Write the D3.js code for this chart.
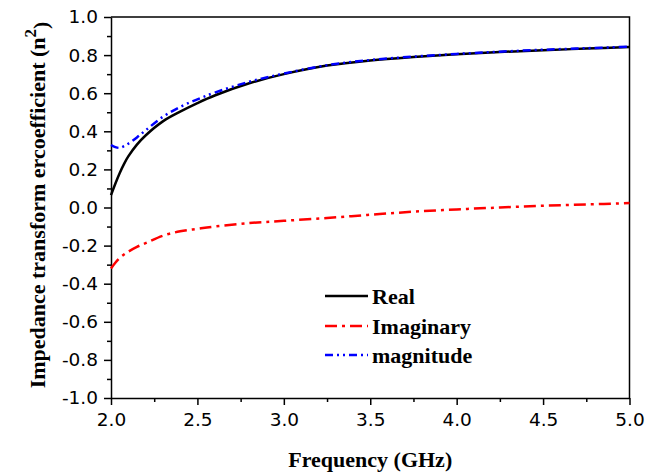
<!DOCTYPE html>
<html lang="en">
    <head>
        <meta charset="utf-8">
        <title>Impedance Transform Coefficient</title>
        <script src="https://d3js.org/d3.v7.min.js"></script>
        <style type="text/css">
        body {
            margin: 0;
            background: #fff;
        }
        .tick text {
            font-family: "DejaVu Sans", Arial, sans-serif;
            font-size: 18.5px;
            fill: #000;
        }
        .title {
            font-family: "Liberation Serif", "Times New Roman", serif;
            font-weight: bold;
            font-size: 22px;
            fill: #000;
        }
        .legend {
            font-family: "Liberation Serif", "Times New Roman", serif;
            font-weight: bold;
            font-size: 22px;
            fill: #000;
        }
        </style>
    </head>
    <body>
    <div id="vis"></div>

    <script type="text/javascript">

        // frequency points (GHz)
        const freq = [2.0, 2.025, 2.05, 2.075, 2.1, 2.15, 2.2, 2.3, 2.4, 2.5, 2.6, 2.8, 3.0, 3.25, 3.5, 3.75, 4.0, 4.25, 4.5, 4.75, 5.0];

        const realPart = [0.065, 0.125, 0.18, 0.228, 0.268, 0.33, 0.378, 0.452, 0.503, 0.548, 0.588, 0.652, 0.70, 0.745, 0.772, 0.79, 0.804, 0.816, 0.826, 0.834, 0.842];
        const imagPart = [-0.32, -0.29, -0.265, -0.247, -0.232, -0.207, -0.187, -0.148, -0.125, -0.112, -0.1, -0.082, -0.07, -0.055, -0.038, -0.022, -0.01, 0.0, 0.009, 0.016, 0.023];
        const magnitude = [0.328, 0.317, 0.313, 0.322, 0.335, 0.368, 0.405, 0.476, 0.528, 0.568, 0.603, 0.66, 0.703, 0.747, 0.774, 0.792, 0.806, 0.818, 0.828, 0.836, 0.844];

        const xTicks = [2.0, 2.5, 3.0, 3.5, 4.0, 4.5, 5.0];
        const yTicks = [-1.0, -0.8, -0.6, -0.4, -0.2, 0.0, 0.2, 0.4, 0.6, 0.8, 1.0];

        const seriesNames = ["Real", "Imaginary", "magnitude"];
        const seriesColors = ["#000000", "#ff0000", "#0000ff"];
        const seriesDash = [null, "12,5,3,5", "8,4,2,4,2,4"];

        const width = 659;
        const height = 473;
        const plotLeft = 111, plotRight = 629.5, plotTop = 17, plotBottom = 398;

        const xScale = d3.scaleLinear().domain([2, 5]).range([plotLeft, plotRight]);
        const yScale = d3.scaleLinear().domain([-1, 1]).range([plotBottom, plotTop]);

        const fmt = d => d3.format(".1f")(d).replace("\u2212", "-");

        const svg = d3.select("#vis")
                      .append("svg")
                      .attr("width", width)
                      .attr("height", height);

        // minor ticks
        const xMinor = d3.range(2.25, 5, 0.5);
        const yMinor = d3.range(-0.9, 1, 0.2);

        svg.append("g")
           .attr("transform", "translate(0," + plotBottom + ")")
           .call(d3.axisBottom(xScale).tickValues(xMinor).tickSize(4).tickFormat(""))
           .call(g => g.select(".domain").remove())
           .selectAll("line").attr("stroke-width", 1.5);

        svg.append("g")
           .attr("transform", "translate(" + plotLeft + ",0)")
           .call(d3.axisLeft(yScale).tickValues(yMinor).tickSize(4).tickFormat(""))
           .call(g => g.select(".domain").remove())
           .selectAll("line").attr("stroke-width", 1.5);

        // major axes
        const xAxis = svg.append("g")
           .attr("transform", "translate(0," + plotBottom + ")")
           .call(d3.axisBottom(xScale).tickValues(xTicks).tickSize(7).tickSizeOuter(0).tickPadding(8).tickFormat(fmt));
        xAxis.selectAll("line, path").attr("stroke-width", 1.5);

        const yAxis = svg.append("g")
           .attr("transform", "translate(" + plotLeft + ",0)")
           .call(d3.axisLeft(yScale).tickValues(yTicks).tickSize(7).tickSizeOuter(0).tickPadding(6).tickFormat(fmt));
        yAxis.selectAll("line, path").attr("stroke-width", 1.5);

        // top and right frame
        svg.append("path")
           .attr("d", "M" + plotLeft + "," + plotTop + "H" + plotRight + "V" + plotBottom)
           .attr("fill", "none")
           .attr("stroke", "#000")
           .attr("stroke-width", 1.5);

        const seriesData = [realPart, imagPart, magnitude];

        const line = d3.line()
                       .x((d, i) => xScale(freq[i]))
                       .y(d => yScale(d))
                       .curve(d3.curveCatmullRom.alpha(0.5));

        seriesData.forEach((vals, k) => {
            svg.append("path")
               .datum(vals)
               .attr("d", line)
               .attr("fill", "none")
               .attr("stroke", seriesColors[k])
               .attr("stroke-width", 2.5)
               .attr("stroke-dasharray", seriesDash[k]);
        });

        // legend
        const legendY = [296, 326, 355];
        seriesNames.forEach((name, k) => {
            svg.append("line")
               .attr("x1", 325).attr("x2", 368)
               .attr("y1", legendY[k]).attr("y2", legendY[k])
               .attr("stroke", seriesColors[k])
               .attr("stroke-width", 2.5)
               .attr("stroke-dasharray", seriesDash[k]);
            svg.append("text")
               .attr("class", "legend")
               .attr("x", 372)
               .attr("y", legendY[k])
               .attr("dy", "0.35em")
               .text(name);
        });

        // axis titles
        svg.append("text")
           .attr("class", "title")
           .attr("x", (plotLeft + plotRight) / 2)
           .attr("y", 467)
           .attr("text-anchor", "middle")
           .text("Frequency (GHz)");

        const yTitle = svg.append("text")
           .attr("class", "title")
           .attr("transform", "translate(45,205) rotate(-90)")
           .attr("text-anchor", "middle");
        yTitle.append("tspan").text("Impedance transform ercoefficient (n");
        yTitle.append("tspan").attr("dy", "-0.55em").attr("font-size", "17px").text("2");
        yTitle.append("tspan").attr("dy", "0.55em").text(")");

    </script>
    </body>
</html>
